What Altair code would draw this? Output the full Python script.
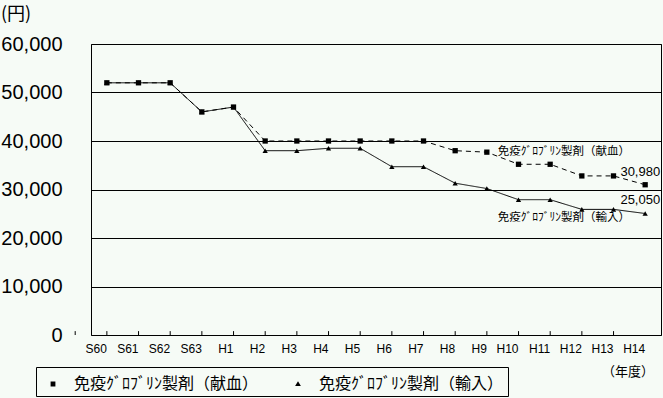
import altair as alt
import pandas as pd

years = ["S60", "S61", "S62", "S63", "H1", "H2", "H3", "H4", "H5", "H6",
         "H7", "H8", "H9", "H10", "H11", "H12", "H13", "H14"]
donated = [52000, 52000, 52000, 46000, 47000, 40000, 40000, 40000, 40000, 40000,
           40000, 38000, 37700, 35200, 35200, 32800, 32800, 30980]
imported = [52000, 52000, 52000, 46000, 47000, 38000, 38000, 38500, 38500, 34700,
            34700, 31300, 30200, 27900, 27900, 25900, 25900, 25050]
s_don = "免疫ｸﾞﾛﾌﾞﾘﾝ製剤（献血）"
s_imp = "免疫ｸﾞﾛﾌﾞﾘﾝ製剤（輸入）"
y_ticks = [0, 10000, 20000, 30000, 40000, 50000, 60000]

rows = []
for y, d, i in zip(years, donated, imported):
    rows.append({"year": y, "value": d, "series": s_don})
    rows.append({"year": y, "value": i, "series": s_imp})
df = pd.DataFrame(rows)

ann_left = pd.DataFrame([
    {"year": "H9", "value": 37730, "text": s_don},
    {"year": "H9", "value": 24120, "text": s_imp},
])
ann_right = pd.DataFrame([
    {"year": "H14", "value": 33600, "text": "30,980"},
    {"year": "H14", "value": 27800, "text": "25,050"},
])

FONT = "Noto Sans CJK JP"
NUMFONT = "Liberation Sans"
NARROW = "Liberation Sans Narrow, Liberation Sans"

x = alt.X("year:N", sort=years, title=None,
          scale=alt.Scale(type="band", paddingInner=0, paddingOuter=0),
          axis=alt.Axis(labelAngle=0, labelFont=NUMFONT, labelFontSize=12,
                        labelColor="black", ticks=False, domain=False,
                        labelPadding=13, grid=False))
y = alt.Y("value:Q", title=None,
          scale=alt.Scale(domain=[0, 60000], nice=False),
          axis=alt.Axis(values=y_ticks, format=",.0f", labelFont=NUMFONT,
                        labelFontSize=20, labelColor="black", ticks=False,
                        domain=False, labelPadding=29, grid=True,
                        gridColor="black", gridWidth=1, gridOpacity=1))

base = alt.Chart(df).encode(x=x, y=y)

dash_scale = alt.Scale(domain=[s_don, s_imp], range=[[5, 4], [1, 0]])
shape_scale = alt.Scale(domain=[s_don, s_imp], range=["square", "triangle-up"])

path_don = ("M-1,0H1M-0.2,-0.2H0.2V0.2H-0.2Z"
            "M-0.2,-0.1H0.2M-0.2,0.1H0.2")
path_imp = ("M-1,0H1M-0.24,0.16L0,-0.22L0.24,0.16Z"
            "M-0.2,0.08H0.2M-0.12,-0.06H0.12")

lines = base.mark_line(color="black", strokeWidth=1).encode(
    strokeDash=alt.StrokeDash("series:N", scale=dash_scale, legend=None),
    order=alt.Order("series:N", sort="ascending"),
)
points = base.mark_point(filled=True, color="black", size=28, opacity=1).encode(
    shape=alt.Shape("series:N", scale=shape_scale, legend=None),
)

legend = alt.Legend(
    title=None, orient="none", legendX=-55, legendY=323,
    direction="horizontal", strokeColor="black", padding=4,
    labelFont=FONT, labelFontSize=16, labelColor="black", labelLimit=400,
    symbolStrokeColor="black", symbolFillColor="black", symbolStrokeWidth=1.2,
    symbolSize=576, columnPadding=24, labelOffset=8, symbolOpacity=1,
)
legend_layer = alt.Chart(df).transform_filter("false").mark_point(
    filled=False, color="black", fill="black", size=576, opacity=1,
    strokeWidth=1.2, strokeOpacity=1, fillOpacity=1
).encode(
    x=alt.X("year:N", sort=years),
    y=alt.Y("value:Q"),
    shape=alt.Shape("legend_series:N",
                    scale=alt.Scale(domain=[s_don, s_imp], range=[path_don, path_imp]),
                    legend=legend),
    strokeDash=alt.StrokeDash("legend_series:N",
                              scale=alt.Scale(domain=[s_don, s_imp], range=[[4, 3], [1, 0]]),
                              legend=legend),
).transform_calculate(legend_series="datum.series")

ticks = alt.Chart(pd.DataFrame({"year": years})).mark_rule(
    color="black", strokeWidth=1).encode(
    x=alt.X("year:N", sort=years),
    xOffset=alt.value(-15.8),
    y=alt.datum(0), y2=alt.datum(800))

t_left = alt.Chart(ann_left).mark_text(
    font=FONT, fontSize=11.5, color="black", baseline="middle", align="left", dx=11
).encode(x=alt.X("year:N", sort=years), y="value:Q", text="text:N")
t_right = alt.Chart(ann_right).mark_text(
    font=NARROW, fontSize=13, color="black", baseline="middle", align="right", dx=15
).encode(x=alt.X("year:N", sort=years), y="value:Q", text="text:N")

unit = alt.Chart(pd.DataFrame({"t": ["(円)"]})).mark_text(
    font=FONT, fontSize=18, color="black", align="left", baseline="middle"
).encode(text="t:N", x=alt.value(-90), y=alt.value(-29))
nendo = alt.Chart(pd.DataFrame({"t": ["（年度）"]})).mark_text(
    font=FONT, fontSize=13, color="black", align="center", baseline="middle"
).encode(text="t:N", x=alt.value(537), y=alt.value(328))

chart = alt.layer(ticks, lines, points, legend_layer, t_left, t_right, unit, nendo).resolve_scale(
    shape="independent", strokeDash="independent"
).properties(
    width=570, height=291,
    background="#f6fbf6",
    padding={"left": 91, "top": 44, "right": 2, "bottom": 63},
    autosize=alt.AutoSizeParams(type="none"),
).configure_view(stroke="black", strokeWidth=1)

chart.save("out.html", embed_options={"renderer": "svg", "actions": False})
